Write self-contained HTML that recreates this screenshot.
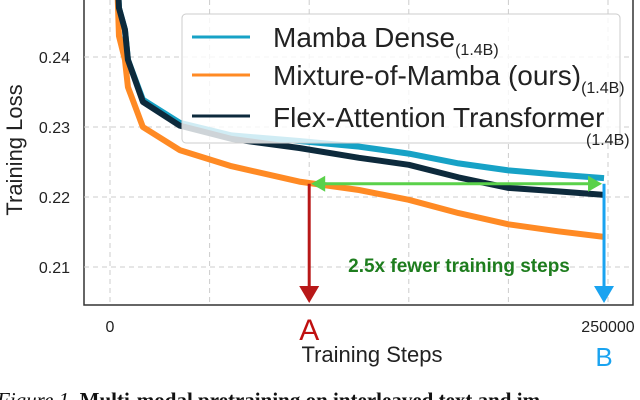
<!DOCTYPE html>
<html><head><meta charset="utf-8"><style>
body{margin:0;background:#fff;width:640px;height:400px;overflow:hidden}
svg{display:block}
text{font-family:"Liberation Sans",sans-serif}
</style></head><body>
<svg width="640" height="400">
<defs>
<clipPath id="cp"><rect x="84" y="0" width="549" height="305"/></clipPath>
</defs>
<rect x="84" y="-2" width="549" height="307" fill="#fff" stroke="#333" stroke-width="1.5"/>
<g id="grid"></g>
<g id="series" clip-path="url(#cp)"></g>
<g>
<rect x="182" y="14" width="438" height="129" rx="4" fill="rgba(255,255,255,0.8)" stroke="#ccc"/>
<line x1="192" y1="37" x2="250" y2="37" stroke="#17a2c6" stroke-width="3"/>
<text x="273" y="47" font-size="28" fill="#222">Mamba Dense<tspan font-size="16" dy="8">(1.4B)</tspan></text>
<line x1="192" y1="75" x2="250" y2="75" stroke="#ff8a24" stroke-width="3"/>
<text x="273" y="85" font-size="28" fill="#222">Mixture-of-Mamba (ours)<tspan font-size="16" dy="8">(1.4B)</tspan></text>
<line x1="192" y1="116" x2="250" y2="116" stroke="#0d2a3c" stroke-width="3"/>
<text x="273" y="127" font-size="28" fill="#222">Flex-Attention Transformer</text>
<text x="586" y="145" font-size="16" fill="#222">(1.4B)</text>
</g>
<g id="ann"></g>
<text x="110" y="332" font-size="16" fill="#222" text-anchor="middle">0</text>
<text x="608" y="332" font-size="16" fill="#222" text-anchor="middle">250000</text>
<text x="372" y="362" font-size="22" fill="#222" text-anchor="middle">Training Steps</text>
<text transform="translate(22,150) rotate(-90)" font-size="22" fill="#222" text-anchor="middle">Training Loss</text>
<text x="-3" y="407" font-size="21" style="font-family:'Liberation Serif',serif" fill="#111"><tspan font-style="italic">Figure 1.</tspan> <tspan font-weight="bold">Multi-modal pretraining on interleaved text and im</tspan></text>
</svg>
<script>
const yTicks=[0.21,0.22,0.23,0.24];
const xTicks=[0,50000,100000,150000,200000,250000];
const steps=[3000,4500,7500,9000,16500,35000,61000,95000,125000,150000,175000,200000,225000,248000];
const mambaLoss=[0.2560,0.2470,0.2439,0.2396,0.2339,0.2306,0.2288,0.2280,0.2272,0.2262,0.2248,0.2238,0.2232,0.2227];
const momLoss=[0.2560,0.2430,0.2396,0.2357,0.2300,0.2267,0.2244,0.2222,0.2210,0.2196,0.2177,0.2161,0.2151,0.2143];
const flexLoss=[0.2560,0.2470,0.2439,0.2396,0.2336,0.2302,0.2283,0.2270,0.2256,0.2246,0.2228,0.2213,0.2208,0.2203];
const arrowStepA=100000, arrowStepB=248000, arrowLoss=0.2219;
const X=s=>110+s/250000*498;
const Y=v=>197-(v-0.22)*7000;
const NS="http://www.w3.org/2000/svg";
function mk(tag,at,parent){const e=document.createElementNS(NS,tag);for(const k in at)e.setAttribute(k,at[k]);parent.appendChild(e);return e;}
const grid=document.getElementById('grid');
yTicks.forEach(v=>{
 const l=mk('line',{x1:84,x2:633,y1:Y(v),y2:Y(v),stroke:'#ccc','stroke-dasharray':'5,4'},grid);
 
 
 const t=mk('text',{x:70,y:Y(v)+6,'font-size':16,fill:'#222','text-anchor':'end'},grid);
 t.textContent=v.toFixed(2);
 
 
});
xTicks.forEach(s=>{
 const l=mk('line',{x1:X(s),x2:X(s),y1:0,y2:305,stroke:'#ccc','stroke-dasharray':'5,4'},grid);
 
 
});
const ser=document.getElementById('series');
[[mambaLoss,'#17a2c6','mamba-dense-line'],[momLoss,'#ff8a24','mixture-of-mamba-line'],[flexLoss,'#0d2a3c','flex-attention-line']].forEach(([d,c,n])=>{
 const p=mk('polyline',{points:steps.map((s,i)=>X(s)+','+Y(d[i])).join(' '),fill:'none',stroke:c,'stroke-width':6,'stroke-linejoin':'round'},ser);
 
 
});
const ann=document.getElementById('ann');
const ax=X(arrowStepA),bx=X(arrowStepB),ay=Y(arrowLoss);
let e;
e=mk('line',{x1:ax,x2:ax,y1:ay,y2:292,stroke:'#b81818','stroke-width':3},ann);


e=mk('polygon',{points:`${ax-10},${286} ${ax+10},${286} ${ax},${303}`,fill:'#b81818'},ann);


e=mk('line',{x1:bx,x2:bx,y1:ay,y2:292,stroke:'#1aa3f0','stroke-width':3},ann);


e=mk('polygon',{points:`${bx-10},${286} ${bx+10},${286} ${bx},${303}`,fill:'#1aa3f0'},ann);


e=mk('line',{x1:ax+8,x2:bx-8,y1:ay,y2:ay,stroke:'#5ad14a','stroke-width':3},ann);


e=mk('polygon',{points:`${ax+2},${ay} ${ax+16},${ay-8} ${ax+16},${ay+8}`,fill:'#5ad14a'},ann);


e=mk('polygon',{points:`${bx-2},${ay} ${bx-16},${ay-8} ${bx-16},${ay+8}`,fill:'#5ad14a'},ann);


e=mk('text',{x:459,y:272,'font-size':19,'font-weight':'bold',fill:'#1e7d1e','text-anchor':'middle'},ann);
e.textContent='2.5x fewer training steps';


e=mk('text',{x:ax,y:340,'font-size':30,fill:'#c01010','text-anchor':'middle'},ann);
e.textContent='A';


e=mk('text',{x:bx,y:366,'font-size':26,fill:'#1aa3f0','text-anchor':'middle'},ann);
e.textContent='B';


</script>
</body></html>
